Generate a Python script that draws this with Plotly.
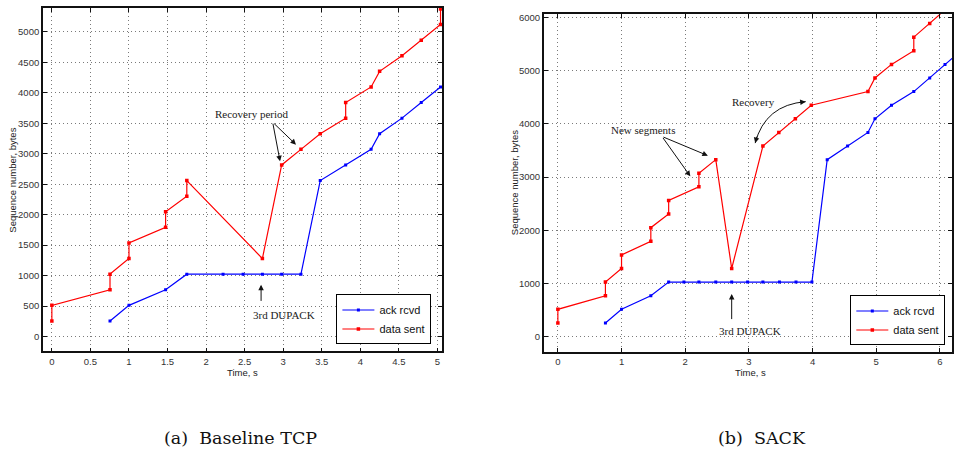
import plotly.graph_objects as go

# ---------------- data: (a) Baseline TCP ----------------
a_ack_t = [0.754, 1.0, 1.475, 1.75, 2.22, 2.48, 2.73, 2.98, 3.23, 3.48, 3.81, 4.14, 4.25, 4.54, 4.79, 5.04]
a_ack_b = [256, 512, 768, 1024, 1024, 1024, 1024, 1024, 1024, 2560, 2816, 3072, 3328, 3584, 3840, 4096]
a_data_t = [0.0, 0.0, 0.754, 0.754, 1.0, 1.0, 1.475, 1.475, 1.75, 1.75, 2.73, 2.98, 3.23, 3.48,
            3.81, 3.81, 4.14, 4.25, 4.54, 4.79, 5.04, 5.04]
a_data_b = [256, 512, 768, 1024, 1280, 1536, 1792, 2048, 2304, 2560, 1280, 2816, 3072, 3328,
            3584, 3840, 4096, 4352, 4608, 4864, 5120, 5376]

# ---------------- data: (b) SACK ----------------
b_ack_t = [0.747, 1.0, 1.46, 1.74, 1.98, 2.215, 2.48, 2.73, 2.98, 3.22, 3.48, 3.74, 3.99,
           4.23, 4.55, 4.87, 4.98, 5.24, 5.59, 5.84, 6.08, 6.33]
b_ack_b = [256, 512, 768, 1024, 1024, 1024, 1024, 1024, 1024, 1024, 1024, 1024, 1024,
           3328, 3584, 3840, 4096, 4352, 4608, 4864, 5120, 5376]
b_data_t = [0.0, 0.0, 0.747, 0.747, 1.0, 1.0, 1.46, 1.46, 1.74, 1.74, 2.215, 2.215, 2.48,
            2.73, 3.22, 3.47, 3.73, 3.98, 4.87, 4.98, 5.24, 5.59, 5.59, 5.84, 6.08]
b_data_b = [256, 512, 768, 1024, 1280, 1536, 1792, 2048, 2304, 2560, 2816, 3072, 3328,
            1280, 3584, 3840, 4096, 4352, 4608, 4864, 5120, 5376, 5632, 5888, 6144]

a_xticks = [0, 0.5, 1, 1.5, 2, 2.5, 3, 3.5, 4, 4.5, 5]
a_yticks = [0, 500, 1000, 1500, 2000, 2500, 3000, 3500, 4000, 4500, 5000]
b_xticks = [0, 1, 2, 3, 4, 5, 6]
b_yticks = [0, 1000, 2000, 3000, 4000, 5000, 6000]

series_names = ["ack rcvd", "data sent"]
captions = ["(a)  Baseline TCP", "(b)  SACK"]

W, H = 954, 458
BLUE, RED = "#0000ff", "#ff0000"
TICKFONT = dict(family="Liberation Sans, Arial", size=9.5, color="#333333")
SERIF = "Liberation Serif, Times New Roman"

fig = go.Figure()

def add_pair(t_ack, b_ack, t_data, b_data, xa, ya, leg):
    fig.add_trace(go.Scatter(x=t_ack, y=b_ack, mode="lines+markers", name=series_names[0],
                             line=dict(color=BLUE, width=1.2),
                             marker=dict(color=BLUE, size=3, symbol="square"),
                             xaxis=xa, yaxis=ya, legend=leg))
    fig.add_trace(go.Scatter(x=t_data, y=b_data, mode="lines+markers", name=series_names[1],
                             line=dict(color=RED, width=1.2),
                             marker=dict(color=RED, size=3.5, symbol="square"),
                             xaxis=xa, yaxis=ya, legend=leg))

add_pair(a_ack_t, a_ack_b, a_data_t, a_data_b, "x", "y", "legend")
add_pair(b_ack_t, b_ack_b, b_data_t, b_data_b, "x2", "y2", "legend2")

def axis_style(**kw):
    d = dict(showline=True, linecolor="#111111", linewidth=1.6, mirror="ticks",
             ticks="inside", ticklen=4, tickcolor="#111111", tickwidth=1,
             showgrid=True, gridcolor="#7a7a7a", griddash="1px,3px", gridwidth=1,
             zeroline=False, tickfont=TICKFONT)
    d.update(kw)
    return d

LEGFONT = dict(family="Liberation Sans, Arial", size=11, color="#111111")

fig.update_layout(
    width=W, height=H, margin=dict(l=0, r=0, t=0, b=0),
    paper_bgcolor="white", plot_bgcolor="white",
    xaxis=axis_style(domain=[43 / W, 443 / W], range=[-0.116, 5.06],
                     tickmode="array", tickvals=a_xticks,
                     ticktext=[("%g" % v) for v in a_xticks], anchor="y"),
    yaxis=axis_style(domain=[1 - 351 / H, 1 - 6 / H], range=[-245, 5392],
                     tickmode="array", tickvals=a_yticks, anchor="x"),
    xaxis2=axis_style(domain=[545 / W, 1.0], range=[-0.22, 6.19],
                      tickmode="array", tickvals=b_xticks, anchor="y2"),
    yaxis2=axis_style(domain=[1 - 351.7 / H, 1 - 12.3 / H], range=[-294, 6063],
                      tickmode="array", tickvals=b_yticks, anchor="x2"),
    legend=dict(x=432.3 / W, y=1 - 344 / H, xanchor="right", yanchor="bottom",
                bgcolor="white", bordercolor="black", borderwidth=1,
                font=LEGFONT, itemwidth=32, tracegroupgap=0),
    legend2=dict(x=947.3 / W, y=1 - 345 / H, xanchor="right", yanchor="bottom",
                 bgcolor="white", bordercolor="black", borderwidth=1,
                 font=LEGFONT, itemwidth=32, tracegroupgap=0),
    showlegend=True,
)

ann = []
# axis titles
for xc, yc, txt, ang in [(242.7 / W, 1 - 371.7 / H, "Time, s", 0),
                         (751.7 / W, 1 - 371.7 / H, "Time, s", 0),
                         (13 / W, 1 - 178.5 / H, "Sequence number, bytes", -90),
                         (515 / W, 1 - 181 / H, "Sequence number, bytes", -90)]:
    ann.append(dict(xref="paper", yref="paper", x=xc, y=yc, text=txt, showarrow=False,
                    textangle=ang, font=dict(family="Liberation Sans, Arial", size=9.5, color="#222222"),
                    xanchor="center", yanchor="middle"))
# captions
for xc, txt in [(241 / W, captions[0]), (764 / W, captions[1])]:
    ann.append(dict(xref="paper", yref="paper", x=xc, y=1 - 437.7 / H, text=txt, showarrow=False,
                    font=dict(family="DejaVu Serif", size=17.5, color="#111111"),
                    xanchor="center", yanchor="middle"))

ANNFONT = dict(family=SERIF, size=11, color="#222222")

def label(xr, yr, x, y, txt):
    ann.append(dict(xref=xr, yref=yr, x=x, y=y, text=txt, showarrow=False, font=ANNFONT,
                    xanchor="center", yanchor="middle"))

def arrow(xr, yr, tail, head):
    ann.append(dict(xref=xr, yref=yr, axref=xr, ayref=yr, x=head[0], y=head[1],
                    ax=tail[0], ay=tail[1], text="", showarrow=True,
                    arrowhead=2, arrowsize=1.1, arrowwidth=1, arrowcolor="#111111"))

def arrow_px(xr, yr, head, dx, dy):
    ann.append(dict(xref=xr, yref=yr, x=head[0], y=head[1], ax=dx, ay=dy, text="",
                    showarrow=True, arrowhead=2, arrowsize=1.1, arrowwidth=1,
                    arrowcolor="#111111"))

# (a) annotations
label("x", "y", 2.587, 3644, "Recovery period")
arrow("x", "y", (2.863, 3518), (2.959, 2876))
arrow("x", "y", (2.863, 3518), (3.166, 3149))
label("x", "y", 3.014, 348, "3rd DUPACK")
arrow("x", "y", (2.713, 560), (2.713, 850))

# (b) annotations
label("x2", "y2", 1.340, 3890, "New segments")
arrow("x2", "y2", (1.635, 3764), (2.080, 3015))
arrow("x2", "y2", (1.635, 3764), (2.356, 3403))
label("x2", "y2", 3.080, 4419, "Recovery")
label("x2", "y2", 3.014, 99, "3rd DUPACK")
arrow("x2", "y2", (2.73, 300), (2.73, 800))
# curved double arrow for Recovery
h1 = (3.099, 3639)
h2 = (3.892, 4419)
ctrl = (3.255, 4357)
arrow_px("x2", "y2", h1, 2, -8)
arrow_px("x2", "y2", h2, -8, 1)

fig.update_layout(annotations=ann)
fig.add_shape(type="path", xref="x2", yref="y2",
              path="M %g,%g Q %g,%g %g,%g" % (h1[0], h1[1], ctrl[0], ctrl[1], h2[0], h2[1]),
              line=dict(color="#111111", width=1))

fig.write_html("out.html", config={"displayModeBar": False},
               post_script="document.body.style.margin='0';document.body.style.padding='0';")
